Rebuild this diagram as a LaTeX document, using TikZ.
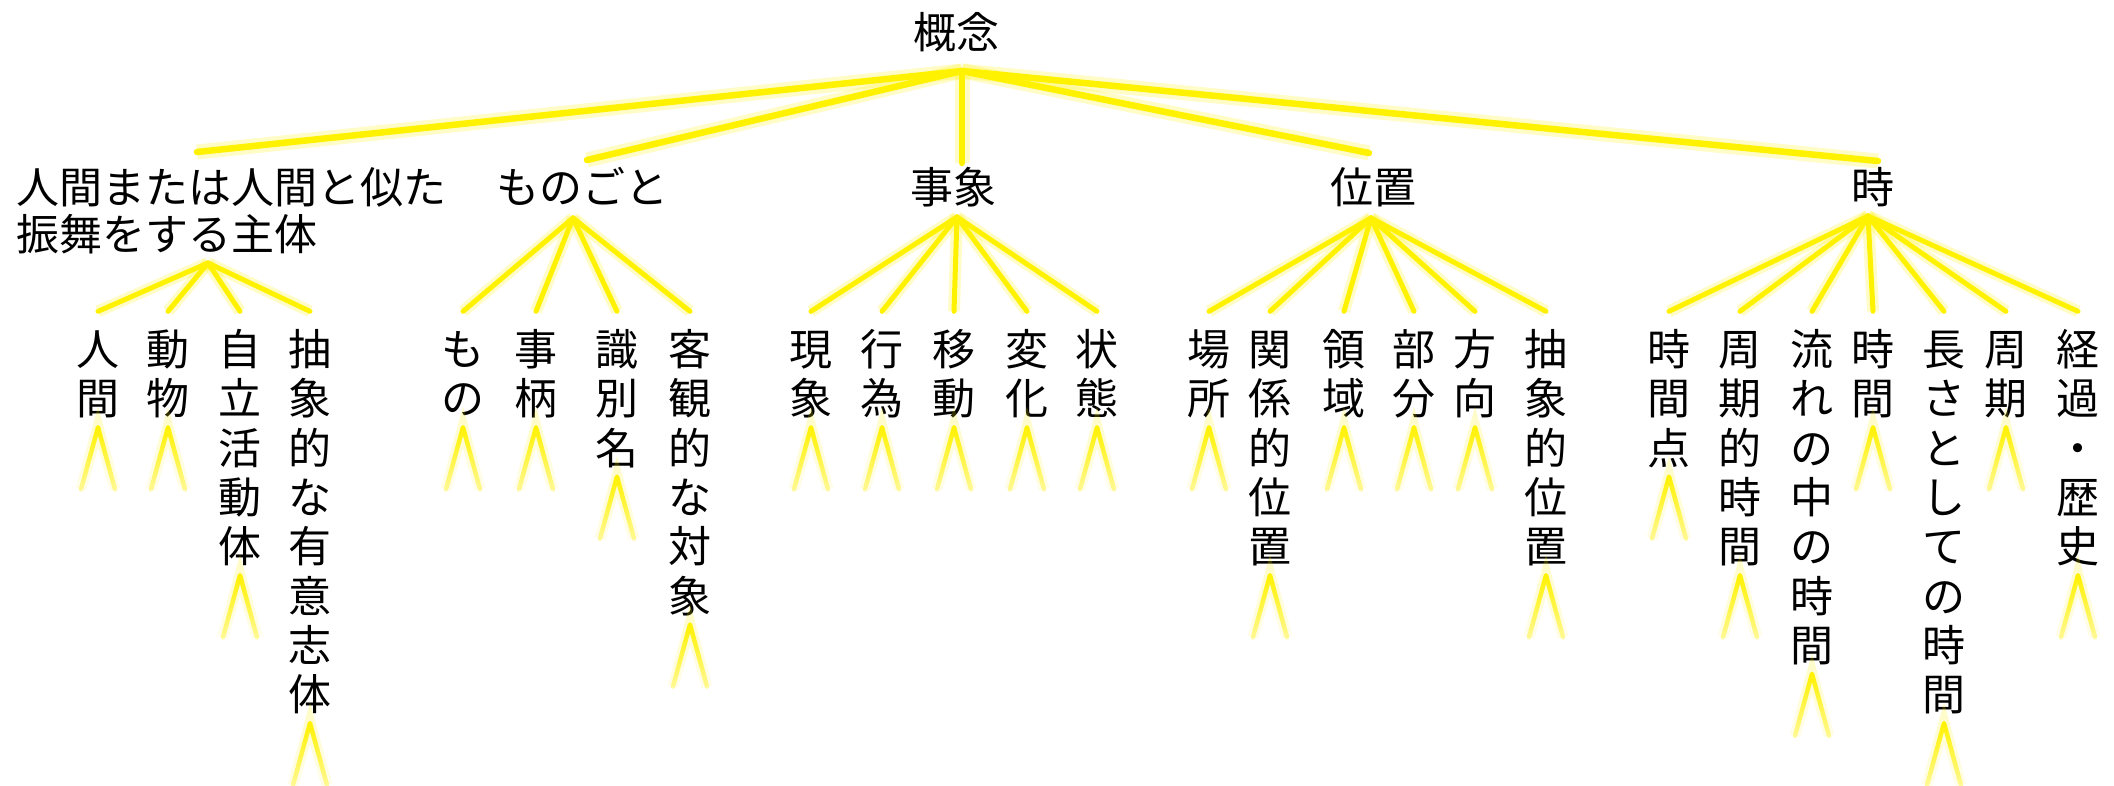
\documentclass[tikz,border=0pt]{standalone}
\usepackage{fontspec}
\newfontfamily\jp{Noto Sans CJK JP}
\usetikzlibrary{calc,fadings}
\makeatletter
\newcommand\vstack[1]{\vbox{\offinterlineskip\vst@loop#1\relax}}
\def\vst@loop#1{\ifx\relax#1\else\hbox to 43pt{\hss\rule[-8.35pt]{0pt}{49.3pt}#1\hss}\expandafter\vst@loop\fi}
\makeatother
\tikzfading[name=lamfade, top color=transparent!0, bottom color=transparent!65]
\tikzset{
  lbl/.style={inner sep=0pt, text=black, font=\jp\fontsize{43}{47}\selectfont},
  vlbl/.style={inner sep=0pt, anchor=north, text=black, font=\jp\fontsize{43}{49.3}\selectfont},
  rootlink/.style={draw=yellow, line width=6.5pt, line cap=round,
    preaction={draw=yellow, draw opacity=0.22, line width=15pt}},
  fanlink/.style={draw=yellow, line width=5pt, line cap=round,
    preaction={draw=yellow, draw opacity=0.22, line width=12pt}},
  lam/.style={draw=yellow, line width=4.5pt, line cap=round, line join=round,
    path fading=lamfade,
    preaction={draw=yellow, draw opacity=0.2, line width=11pt, path fading=lamfade}}
}
\begin{document}
\begin{tikzpicture}[x=1pt, y=-1pt]
\fill[white] (0,0) rectangle (2114,785);
\useasboundingbox (0,0) rectangle (2114,785);

% root
\node[lbl, anchor=base] (root) at (956,48) {概念};
\coordinate (rj) at ($(root.base)+(6,23)$);

% level 1
\node[lbl, anchor=base west] (n1) at (16,203)
  {\vtop{\baselineskip=47pt\hbox{人間または人間と似た}\hbox{振舞をする主体}}};
\node[lbl, anchor=base] (n2) at (582,203) {ものごと};
\node[lbl, anchor=base] (n3) at (953,203) {事象};
\node[lbl, anchor=base] (n4) at (1373,203) {位置};
\node[lbl, anchor=base] (n5) at (1873,203) {時};

\draw[rootlink] (rj) -- ($(n1.base west)+(181,-51)$);
\draw[rootlink] (rj) -- ($(n2.base)+(5,-43)$);
\draw[rootlink] (rj) -- ($(n3.base)+(9,-40)$);
\draw[rootlink] (rj) -- ($(n4.base)+(-4,-50)$);
\draw[rootlink] (rj) -- ($(n5.base)+(5,-42)$);

% fan junctions
\coordinate (f1) at ($(n1.base west)+(192,60)$);
\coordinate (f2) at ($(n2.base)+(-9,15)$);
\coordinate (f3) at ($(n3.base)+(4,14)$);
\coordinate (f4) at ($(n4.base)+(-2,15)$);
\coordinate (f5) at ($(n5.base)+(-5,13)$);

% level 2
\foreach \nid/\nx/\ntx/\npar in {
  a1/98/人間/f1, a2/168/動物/f1, a3/240/自立活動体/f1, a4/310/抽象的な有意志体/f1,
  b1/463/もの/f2, b2/536/事柄/f2, b3/617/識別名/f2, b4/690/客観的な対象/f2,
  c1/811/現象/f3, c2/882/行為/f3, c3/954/移動/f3, c4/1027/変化/f3, c5/1097/状態/f3,
  d1/1209/場所/f4, d2/1270/関係的位置/f4, d3/1344/領域/f4, d4/1414/部分/f4, d5/1475/方向/f4, d6/1546/抽象的位置/f4,
  e1/1669/時間点/f5, e2/1740/周期的時間/f5, e3/1812/流れの中の時間/f5, e4/1873/時間/f5, e5/1944/長さとしての時間/f5, e6/2006/周期/f5, e7/2078/経過・歴史/f5}
{
  \node[vlbl] (\nid) at (\nx,324.35) {\expandafter\vstack\expandafter{\ntx}};
  \draw[fanlink] (\npar) -- ($(\nid.north)+(0,-13)$);
  \draw[lam] ($(\nid.south)+(-17,66)$) -- ($(\nid.south)+(0,4)$) -- ($(\nid.south)+(17,66)$);
}
\end{tikzpicture}
\end{document}
